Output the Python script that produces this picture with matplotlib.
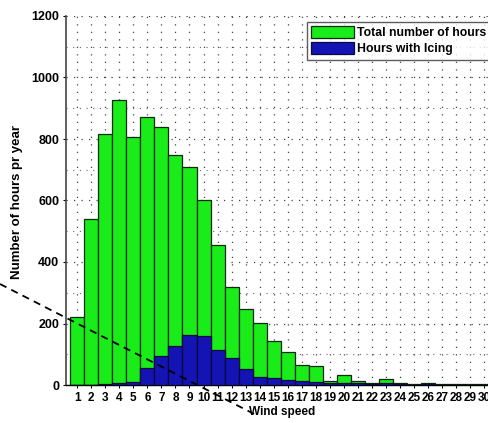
import matplotlib
matplotlib.use("Agg")
import matplotlib.pyplot as plt
from matplotlib.lines import Line2D
import numpy as np

plt.rcParams['font.family'] = ['Liberation Sans', 'DejaVu Sans']

wind_speed = list(range(1, 31))
total_hours = [220, 540, 815, 927, 808, 870, 840, 748, 708, 600, 455, 318, 246, 203, 143,
               108, 65, 63, 12, 33, 14, 8, 18, 5, 3, 5, 2, 3, 2, 2]
icing_hours = [0, 0, 2, 5, 10, 54, 95, 127, 164, 158, 115, 87, 52, 27, 22,
               16, 14, 11, 8, 8, 5, 4, 5, 2, 1, 2, 1, 1, 1, 1]
y_ticks = [0, 200, 400, 600, 800, 1000, 1200]
series_labels = ["Total number of hours", "Hours with Icing"]

W, H = 489, 423
fig = plt.figure(figsize=(W / 100, H / 100), dpi=100)
fig.patch.set_facecolor('white')

left, right, top, bottom = 66, 496, 16, 385
ax = fig.add_axes([left / W, 1 - bottom / H, (right - left) / W, (bottom - top) / H])

b1 = ax.bar(wind_speed, total_hours, width=1.0, color='#19ec19', edgecolor='#0a2a0a',
            linewidth=0.9, zorder=2, label=series_labels[0])
b2 = ax.bar(wind_speed, icing_hours, width=1.0, color='#1414b4', edgecolor='#0a0a3a',
            linewidth=0.9, zorder=3, label=series_labels[1])

ax.set_xlim(0.2, 30.84)
ax.set_ylim(0, 1200)
ax.set_xticks(wind_speed)
ax.set_xticklabels([str(v) for v in wind_speed], fontsize=8.5, fontweight='bold')
ax.set_yticks(y_ticks)
ax.set_yticklabels([str(v) for v in y_ticks], fontsize=9, fontweight='bold')
ax.set_yticks(np.arange(0, 1201, 100), minor=True)
ax.tick_params(axis='both', which='major', length=2, width=0.8, pad=3, direction='out')
ax.tick_params(axis='y', which='minor', length=0)
ax.tick_params(axis='x', pad=3)

ax.grid(True, which='major', axis='both', color='#444444', linestyle=(0, (1, 5)), linewidth=0.9, zorder=0)
ax.grid(True, which='minor', axis='y', color='#666666', linestyle=(0, (1, 5)), linewidth=0.8, zorder=0)
ax.set_axisbelow(True)

for s in ['top', 'right']:
    ax.spines[s].set_visible(False)
ax.spines['left'].set_color('#444444')
ax.spines['left'].set_linewidth(1.2)
ax.spines['bottom'].set_color('black')
ax.spines['bottom'].set_linewidth(1.0)

ax.set_xlabel("Wind speed", fontsize=8.5, fontweight='bold')
ax.xaxis.set_label_coords((282 - left) / (right - left), (bottom - 406) / (bottom - top))
ax.set_ylabel("Number of hours pr year", fontsize=9.5, fontweight='bold')
ax.yaxis.set_label_coords((23 - left) / (right - left), (bottom - 202) / (bottom - top))

leg = fig.legend(handles=[b1, b2], loc='upper left',
                 bbox_to_anchor=(307 / W, 1 - 22 / H),
                 prop={'weight': 'bold', 'size': 8.8}, frameon=True, fancybox=False,
                 handlelength=3.5, handleheight=1.1, handletextpad=0.25,
                 borderpad=0.35, labelspacing=0.25, borderaxespad=0)
leg.get_frame().set_edgecolor('#333333')
leg.get_frame().set_linewidth(1.0)

# dashed overlay line drawn across the figure
fig.add_artist(Line2D([0 / W, 258 / W], [1 - 284 / H, 1 - 416 / H], transform=fig.transFigure,
                      color='black', linestyle=(0, (4, 3)), linewidth=1.3, zorder=10))

fig.savefig("out.png", dpi=100, facecolor='white')
